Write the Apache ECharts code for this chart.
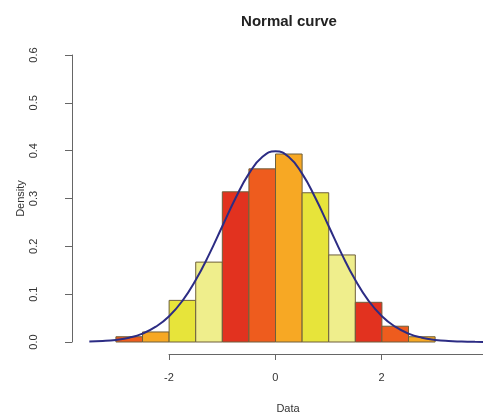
<!DOCTYPE html>
<html>
<head>
<meta charset="utf-8">
<script src="https://cdn.jsdelivr.net/npm/echarts@6/dist/echarts.min.js"></script>
<style>html,body{margin:0;padding:0;background:#fff;}#c{width:483px;height:418px;}</style>
</head>
<body>
<div id="c"></div>
<script>
// Histogram bins (left edges, width 0.5) and densities
var binStart = [-3.5, -3.0, -2.5, -2.0, -1.5, -1.0, -0.5, 0.0, 0.5, 1.0, 1.5, 2.0, 2.5, 3.0];
var binWidth = 0.5;
var density = [0, 0.011, 0.021, 0.087, 0.167, 0.314, 0.362, 0.393, 0.312, 0.182, 0.083, 0.033, 0.011, 0];
var palette = ['#E2321F', '#EE5C1E', '#F7A824', '#E7E43A', '#EFEE8C'];

// Normal curve points
var curveX = [-3.5, -3.25, -3.0, -2.75, -2.5, -2.25, -2.0, -1.75, -1.5, -1.25, -1.0, -0.75, -0.5, -0.25, 0.0,
              0.25, 0.5, 0.75, 1.0, 1.25, 1.5, 1.75, 2.0, 2.25, 2.5, 2.75, 3.0, 3.25, 3.5, 3.75, 4.0];
var curveY = [0.001, 0.002, 0.0044, 0.009, 0.0175, 0.032, 0.054, 0.086, 0.1295, 0.1826, 0.242, 0.301, 0.352, 0.3867, 0.3989,
              0.3867, 0.352, 0.301, 0.242, 0.1826, 0.1295, 0.086, 0.054, 0.032, 0.0175, 0.009, 0.0044, 0.002, 0.001, 0.0004, 0.0001];

var xTicks = [-2, 0, 2, 4];
var yTicks = [0, 0.1, 0.2, 0.3, 0.4, 0.5, 0.6];

var barData = binStart.map(function (s, i) { return [s, s + binWidth, density[i], i]; });
var lineData = curveX.map(function (x, i) { return [x, curveY[i]]; });

var chart = echarts.init(document.getElementById('c'), null, {renderer: 'canvas'});
var font = 'Liberation Sans, Arial, Helvetica, sans-serif';
chart.setOption({
  animation: false,
  backgroundColor: '#fff',
  title: {
    text: 'Normal curve', left: 284, top: 9, textAlign: 'center',
    textStyle: {fontFamily: font, fontWeight: 'bold', fontSize: 15, color: '#222'}
  },
  grid: [
    {left: 84, right: 0, top: 55, bottom: 76, outerBoundsMode: 'none', containLabel: false},
    {left: 169, right: -5, top: 300, bottom: 64, outerBoundsMode: 'none', containLabel: false}
  ],
  xAxis: [
    {
      gridIndex: 0, type: 'value', min: -3.6, max: 3.9,
      axisLine: {show: false}, axisTick: {show: false}, axisLabel: {show: false}, splitLine: {show: false},
      name: 'Data', nameLocation: 'middle', nameGap: 61,
      nameTextStyle: {fontFamily: font, fontSize: 11, color: '#333', padding: [0, 0, 0, 9]}
    },
    {
      gridIndex: 1, type: 'value', min: xTicks[0], max: xTicks[xTicks.length - 1], interval: 2,
      axisLine: {show: true, onZero: false, lineStyle: {color: '#666', width: 1}},
      axisTick: {show: true, inside: false, length: 6, lineStyle: {color: '#666'}},
      axisLabel: {show: true, margin: 18, fontFamily: font, fontSize: 11, color: '#333', hideOverlap: false},
      splitLine: {show: false}
    }
  ],
  yAxis: [
    {
      gridIndex: 0, type: 'value', min: yTicks[0], max: yTicks[yTicks.length - 1], interval: 0.1,
      offset: 12,
      axisLine: {show: true, onZero: false, lineStyle: {color: '#666', width: 1}},
      axisTick: {show: true, length: 7, lineStyle: {color: '#666'}},
      axisLabel: {show: true, rotate: 90, margin: 33, fontFamily: font, fontSize: 11, color: '#333',
        formatter: function (v) { return v.toFixed(1); }},
      splitLine: {show: false},
      name: 'Density', nameLocation: 'middle', nameGap: 46, nameRotate: 90,
      nameMoveOverlap: false,
      nameTextStyle: {fontFamily: font, fontSize: 11, color: '#333'}
    },
    {
      gridIndex: 1, type: 'value', min: 0, max: 1, show: false
    }
  ],
  series: [
    {
      type: 'custom', xAxisIndex: 0, yAxisIndex: 0,
      data: barData,
      renderItem: function (params, api) {
        var h = api.value(2);
        if (h <= 0) return null;
        var p0 = api.coord([api.value(0), h]);
        var p1 = api.coord([api.value(1), 0]);
        return {
          type: 'rect',
          shape: {x: p0[0], y: p0[1], width: p1[0] - p0[0], height: p1[1] - p0[1]},
          style: {fill: palette[api.value(3) % palette.length], stroke: '#6e5f3c', lineWidth: 1}
        };
      }
    },
    {
      type: 'line', xAxisIndex: 0, yAxisIndex: 0,
      data: lineData, smooth: true, showSymbol: false, clip: true,
      lineStyle: {color: '#2c2c84', width: 2}
    }
  ]
});
</script>
</body>
</html>
